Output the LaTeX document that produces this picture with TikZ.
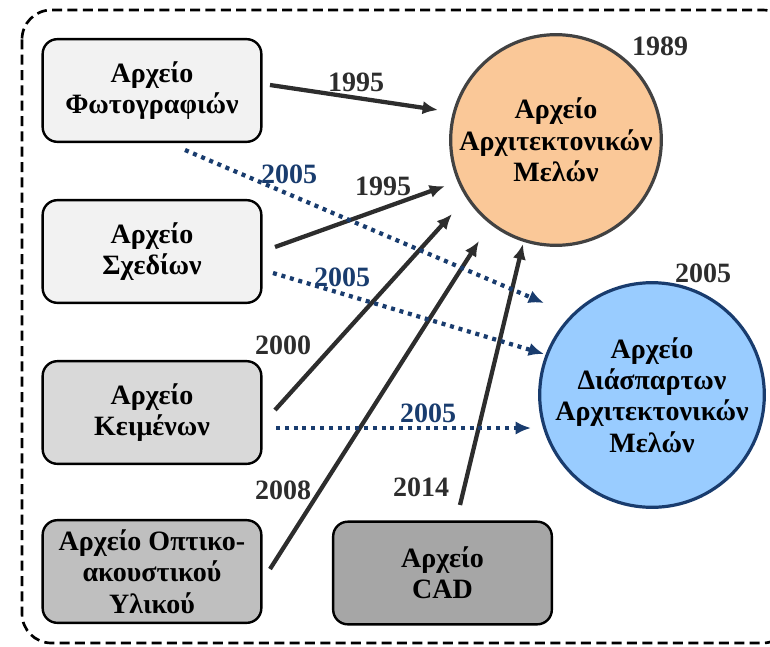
\documentclass[tikz,border=0pt]{standalone}
\usepackage{fontspec}
\setmainfont{Liberation Serif}
\definecolor{linegray}{RGB}{45,45,45}
\definecolor{dotblue}{RGB}{25,60,110}
\definecolor{archorange}{RGB}{250,200,152}
\definecolor{archblue}{RGB}{153,204,255}
\definecolor{boxA}{RGB}{242,242,242}
\definecolor{boxB}{RGB}{217,217,217}
\definecolor{boxC}{RGB}{191,191,191}
\definecolor{boxD}{RGB}{166,166,166}
\usepackage{tikz}
\usetikzlibrary{arrows.meta}

\begin{document}
\begin{tikzpicture}[x=0.75pt, y=-0.75pt, >={Latex[length=11.5pt,width=10pt]},
    every node/.style={font=\fontsize{21}{23.5}\selectfont\bfseries},
    archbox/.style={draw=black, line width=1.8pt, rounded corners=11pt,
        minimum width=164pt, minimum height=77pt, align=center, inner sep=1pt},
    archcircle/.style={circle, line width=2.4pt, minimum size=158pt,
        align=center, inner sep=0pt},
    solidarr/.style={->, line width=3.2pt, linegray},
    dotarr/.style={->, line width=3.2pt, dotblue, dash pattern=on 3pt off 3.6pt},
    year/.style={text=linegray},
    yearblue/.style={text=dotblue}]
                \useasboundingbox (0,0) rectangle (770,646);
                \draw[line width=2pt, dash pattern=on 7.5pt off 4pt, rounded corners=22pt]
                    (22,10) rectangle (792,643);

                % sources
                \node[archbox, fill=boxA] (foto) at (152,90.5) {Αρχείο\\Φωτογραφιών};
                \node[archbox, fill=boxA] (sxed) at (152,251.5) {Αρχείο\\Σχεδίων};
                \node[archbox, fill=boxB] (keim) at (152,412.5) {Αρχείο\\Κειμένων};
                \node[archbox, fill=boxC] (opti) at (152,571.5) {Αρχείο Οπτικο-\\ακουστικού\\Υλικού};
                \node[archbox, fill=boxD] (cad) at (442.5,573) {Αρχείο\\CAD};

                % archives
                \node[archcircle, draw=linegray!90, fill=archorange] (arch) at (556,140)
                    {Αρχείο\\Αρχιτεκτονικών\\Μελών};
                \node[archcircle, draw=dotblue, fill=archblue] (diasp) at (652,395)
                    {Αρχείο\\Διάσπαρτων\\Αρχιτεκτονικών\\Μελών};
                \node[year] (y1989) at (660,46) {1989};
                \node[year] (y2005) at (703,273) {2005};

                % arrow ends
                \coordinate (fotoA) at (270,85);   \coordinate (archA) at (438,110);
                \coordinate (sxedA) at (275,247);  \coordinate (archB) at (445,186);
                \coordinate (keimA) at (275,410);  \coordinate (archC) at (452,214);
                \coordinate (optiA) at (270,569);  \coordinate (archD) at (479,241);
                \coordinate (cadA) at (460,505);   \coordinate (archE) at (523,244);
                \coordinate (fotoB) at (185,150);  \coordinate (diaspA) at (544,303);
                \coordinate (sxedB) at (273,273);  \coordinate (diaspB) at (544,354);
                \coordinate (keimB) at (276,428);  \coordinate (diaspC) at (531,428);

                \draw[solidarr] (fotoA) -- (archA);
                \draw[solidarr] (sxedA) -- (archB);
                \draw[solidarr] (keimA) -- (archC);
                \draw[solidarr] (optiA) -- (archD);
                \draw[solidarr] (cadA) -- (archE);
                \draw[dotarr] (fotoB) -- (diaspA);
                \draw[dotarr] (sxedB) -- (diaspB);
                \draw[dotarr] (keimB) -- (diaspC);

                \node[year] (l1) at (356,82) {1995};
                \node[year] (l2) at (383,186) {1995};
                \node[year] (l3) at (283,345) {2000};
                \node[year] (l4) at (283,490) {2008};
                \node[year] (l5) at (421,487) {2014};
                \node[yearblue] (l6) at (289,174) {2005};
                \node[yearblue] (l7) at (342,277) {2005};
                \node[yearblue] (l8) at (428,413) {2005};
\end{tikzpicture}
\end{document}
